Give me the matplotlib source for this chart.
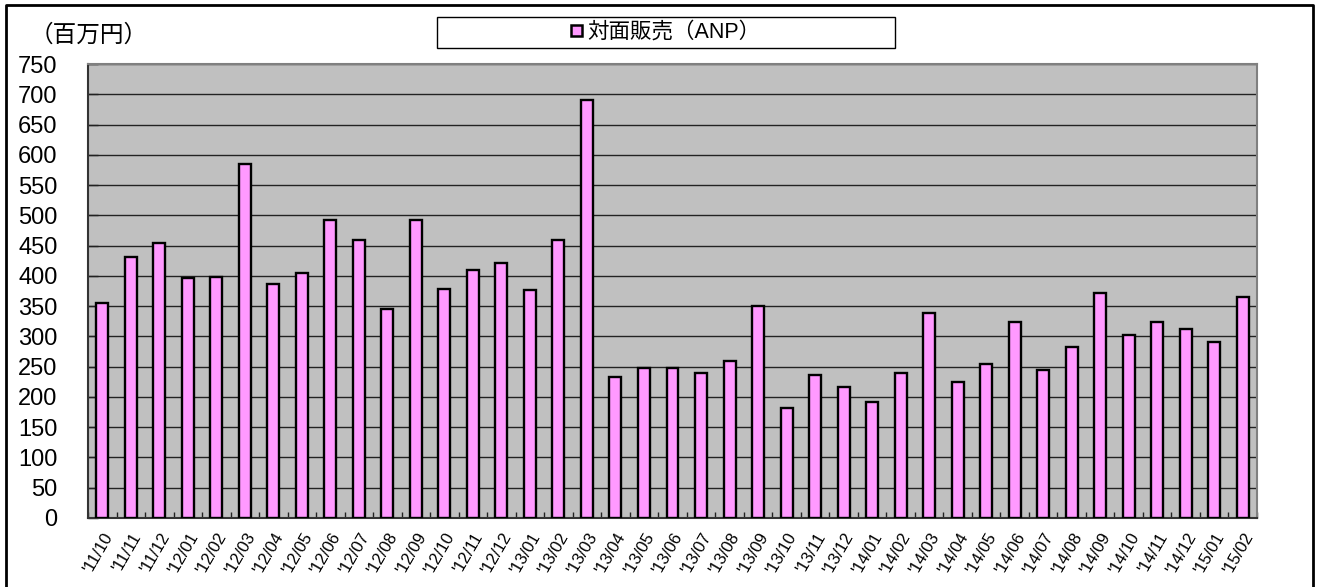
import matplotlib
matplotlib.use("Agg")
import matplotlib.pyplot as plt
from matplotlib.patches import Rectangle, Patch
from matplotlib.lines import Line2D
import numpy as np

plt.rcParams['font.family'] = ['Liberation Sans', 'Noto Sans CJK JP', 'DejaVu Sans']

categories = ["'11/10", "'11/11", "'11/12",
              "'12/01", "'12/02", "'12/03", "'12/04", "'12/05", "'12/06",
              "'12/07", "'12/08", "'12/09", "'12/10", "'12/11", "'12/12",
              "'13/01", "'13/02", "'13/03", "'13/04", "'13/05", "'13/06",
              "'13/07", "'13/08", "'13/09", "'13/10", "'13/11", "'13/12",
              "'14/01", "'14/02", "'14/03", "'14/04", "'14/05", "'14/06",
              "'14/07", "'14/08", "'14/09", "'14/10", "'14/11", "'14/12",
              "'15/01", "'15/02"]
anp_values = [355, 431, 455,
              396, 398, 585, 387, 404, 492,
              460, 345, 492, 378, 410, 422,
              377, 460, 690, 233, 248, 247,
              239, 259, 350, 181, 237, 216,
              192, 239, 338, 225, 254, 324,
              244, 282, 371, 303, 323, 313,
              291, 365]
series_name = "対面販売（ANP）"
unit_label = "（百万円）"
y_ticks = list(range(0, 751, 50))

W, H = 1317, 587
fig = plt.figure(figsize=(W / 100, H / 100), dpi=100)
fig.patch.set_facecolor('white')

left, right, top, bottom = 88, 1257, 64, 518
ax = fig.add_axes([left / W, 1 - bottom / H, (right - left) / W, (bottom - top) / H])
ax.set_facecolor('#C0C0C0')

x = np.arange(len(categories))
bars = ax.bar(x, anp_values, width=0.42, color='#FF99FF', edgecolor='black',
              linewidth=1.7, zorder=3)

ax.set_xlim(-0.5, len(categories) - 0.5)
ax.set_ylim(0, 750)
ax.set_yticks(y_ticks)
ax.set_yticklabels([str(v) for v in y_ticks], fontsize=17)
ax.grid(axis='y', color='#222222', linewidth=1.0, zorder=1)
ax.set_axisbelow(True)

ax.set_xticks(x)
ax.set_xticklabels(categories, rotation=60, ha='right', va='top',
                   rotation_mode='anchor', fontsize=12)
ax.tick_params(axis='x', which='major', length=0, pad=9)
ax.set_xticks(np.arange(-0.5, len(categories), 1.0), minor=True)
ax.tick_params(axis='x', which='minor', direction='in', length=4, width=1, color='#222222')
ax.tick_params(axis='y', direction='in', length=7, width=1, color='#222222', pad=22)

for s in ['top', 'right']:
    ax.spines[s].set_color('#808080')
    ax.spines[s].set_linewidth(1.5)
for s in ['left', 'bottom']:
    ax.spines[s].set_color('#333333')
    ax.spines[s].set_linewidth(1.5)

# unit label
fig.text(30 / W, 1 - 36 / H, unit_label, fontsize=17, ha='left', va='center')

# legend box
lx0, lx1, ly0, ly1 = 437, 895, 17, 48
fig.patches.append(Rectangle((lx0 / W, 1 - ly1 / H), (lx1 - lx0) / W, (ly1 - ly0) / H,
                             transform=fig.transFigure, facecolor='white',
                             edgecolor='black', linewidth=1.0))
handle = Patch(facecolor='#FF99FF', edgecolor='black', linewidth=1.8)
fig.legend([handle], [series_name], loc='center',
           bbox_to_anchor=((lx0 + lx1) / 2 / W, 1 - (ly0 + ly1) / 2 / H),
           frameon=False, fontsize=15.5, handlelength=0.5, handleheight=0.4,
           handletextpad=0.25, borderpad=0)

# outer frame (left, top, right)
fig.add_artist(Line2D([6 / W, 6 / W, 1313 / W, 1313 / W],
                      [0, 1 - 5 / H, 1 - 5 / H, 0],
                      transform=fig.transFigure, color='black', linewidth=2))

fig.savefig('out.png', dpi=100)
